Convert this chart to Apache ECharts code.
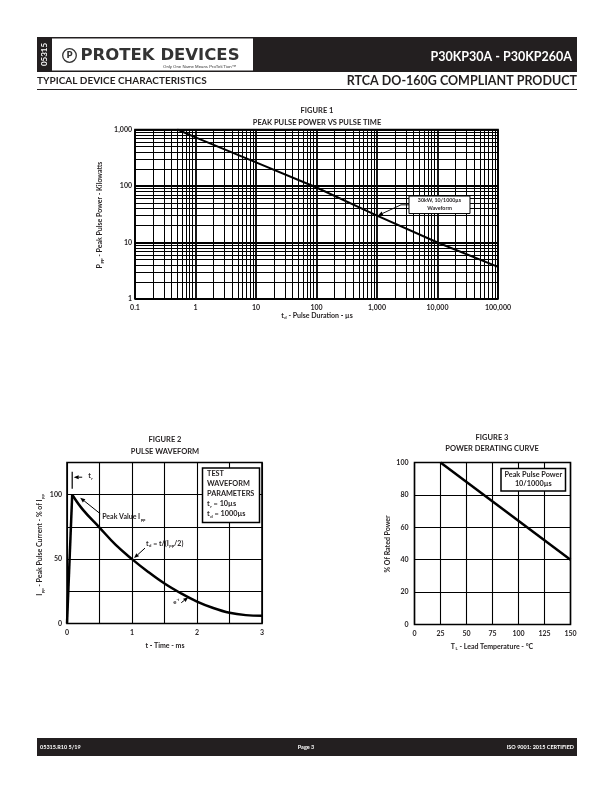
<!DOCTYPE html>
<html><head><meta charset="utf-8">
<script src="https://cdn.jsdelivr.net/npm/echarts@6/dist/echarts.min.js"></script>
<style>html,body{margin:0;padding:0;background:#fff}#c{width:612px;height:792px}</style>
</head><body><div id="c"></div>
<script>
// ---------- DATA ----------
// Figure 1: Peak pulse power vs pulse time
const fig1PulseDuration = [0.5, 1, 10, 100, 1000, 10000, 100000];
const fig1PeakPower = [1000, 725, 262, 94, 30, 10, 3.7];
const fig1XTickLabels = ['0.1', '1', '10', '100', '1,000', '10,000', '100,000'];
const fig1YTickLabels = ['1', '10', '100', '1,000'];
// Figure 2: Pulse waveform
const fig2Time = [0, 0.08, 0.25, 0.5, 0.75, 1, 1.25, 1.5, 1.75, 2, 2.25, 2.5, 2.75, 3];
const fig2Current = [0, 100, 88, 74.5, 61, 50, 40, 31, 23.5, 17, 12, 8.3, 6.5, 6];
const fig2XTickLabels = [0, 1, 2, 3];
const fig2YTickLabels = [0, 50, 100];
// Figure 3: Power derating curve
const fig3Temp = [25, 150];
const fig3Power = [100, 40];
const fig3XTickLabels = [0, 25, 50, 75, 100, 125, 150];
const fig3YTickLabels = [0, 20, 40, 60, 80, 100];

// ---------- STYLE ----------
const TXT = '#231f20';
const F = 'Lato, "Open Sans", "DejaVu Sans", sans-serif';
const lbl = (s) => ({color: TXT, fontFamily: F, fontWeight: 'bold', fontSize: s});

// minor log grid values (2..9 per decade)
const xMinor = [], yMinor = [];
for (let d = -1; d < 5; d++) for (let k = 2; k <= 9; k++) xMinor.push(k * Math.pow(10, d));
for (let d = 0; d < 3; d++) for (let k = 2; k <= 9; k++) yMinor.push(k * Math.pow(10, d));

const zip = (a, b) => a.map((v, i) => [v, b[i]]);
const gridBase = {show: true, borderColor: '#000', borderWidth: 1.6, backgroundColor: 'rgba(0,0,0,0)', outerBoundsMode: 'none', containLabel: false};
const split = (w) => ({show: true, lineStyle: {color: '#000', width: w, type: 'solid'}});

const chart = echarts.init(document.getElementById('c'), null, {renderer: 'canvas', width: 612, height: 792});

const option = {
  animation: false,
  backgroundColor: '#fff',
  grid: [
    Object.assign({left: 135, top: 129.5, width: 363, height: 169.5}, gridBase),
    Object.assign({left: 67, top: 462.5, width: 195, height: 161}, gridBase),
    Object.assign({left: 414.5, top: 462.5, width: 156, height: 162}, gridBase)
  ],
  xAxis: [
    {gridIndex: 0, type: 'log', logBase: 10, min: 0.1, max: 100000,
     axisLine: {show: false}, axisTick: {show: false}, splitLine: split(1.8),
     axisLabel: Object.assign({interval: 0, margin: 5, showMinLabel: true, showMaxLabel: true,
       formatter: v => fig1XTickLabels[Math.round(Math.log10(v)) + 1] || ''}, lbl(7))},
    {gridIndex: 1, type: 'value', min: 0, max: 3, interval: 0.5,
     axisLine: {show: false}, axisTick: {show: false}, splitLine: split(1.1),
     axisLabel: Object.assign({interval: 0, margin: 6,
       formatter: v => fig2XTickLabels.indexOf(Math.round(v * 100) / 100) >= 0 ? String(v) : ''}, lbl(7))},
    {gridIndex: 2, type: 'value', min: 0, max: 150, interval: 25,
     axisLine: {show: false}, axisTick: {show: false}, splitLine: split(1.1),
     axisLabel: Object.assign({interval: 0, margin: 6,
       formatter: v => fig3XTickLabels.indexOf(v) >= 0 ? String(v) : ''}, lbl(7))}
  ],
  yAxis: [
    {gridIndex: 0, type: 'log', logBase: 10, min: 1, max: 1000,
     axisLine: {show: false}, axisTick: {show: false}, splitLine: split(1.8),
     axisLabel: Object.assign({interval: 0, margin: 3, showMinLabel: true, showMaxLabel: true,
       formatter: v => fig1YTickLabels[Math.round(Math.log10(v))] || ''}, lbl(7))},
    {gridIndex: 1, type: 'value', min: 0, max: 125, interval: 25,
     axisLine: {show: false}, axisTick: {show: false}, splitLine: split(1.1),
     axisLabel: Object.assign({interval: 0, margin: 5,
       formatter: v => fig2YTickLabels.indexOf(v) >= 0 ? String(v) : ''}, lbl(7))},
    {gridIndex: 2, type: 'value', min: 0, max: 100, interval: 20,
     axisLine: {show: false}, axisTick: {show: false}, splitLine: split(1.1),
     axisLabel: Object.assign({interval: 0, margin: 6,
       formatter: v => fig3YTickLabels.indexOf(v) >= 0 ? String(v) : ''}, lbl(7))}
  ],
  series: [
    {type: 'line', xAxisIndex: 0, yAxisIndex: 0, data: zip(fig1PulseDuration, fig1PeakPower),
     symbol: 'none', silent: true, z: 10, lineStyle: {color: '#000', width: 2},
     markLine: {silent: true, symbol: ['none', 'none'], z: 1, label: {show: false},
       lineStyle: {color: '#000', width: 1, type: 'solid'}, emphasis: {disabled: true},
       data: xMinor.map(v => ({xAxis: v})).concat(yMinor.map(v => ({yAxis: v})))}},
    {type: 'line', xAxisIndex: 1, yAxisIndex: 1, data: zip(fig2Time.slice(0, 2), fig2Current.slice(0, 2)),
     symbol: 'none', silent: true, z: 10, lineStyle: {color: '#000', width: 2.5}},
    {type: 'line', xAxisIndex: 1, yAxisIndex: 1, data: zip(fig2Time.slice(1), fig2Current.slice(1)),
     symbol: 'none', smooth: 0.4, silent: true, z: 10, lineStyle: {color: '#000', width: 2.5},
     markLine: {silent: true, symbol: ['none', 'none'], label: {show: false},
       lineStyle: {color: '#000', width: 1, type: [2, 2]}, emphasis: {disabled: true},
       data: [[{coord: [0, 50]}, {coord: [1, 50]}], [{coord: [1, 50]}, {coord: [1, 0]}]]}},
    {type: 'line', xAxisIndex: 2, yAxisIndex: 2, data: zip(fig3Temp, fig3Power),
     symbol: 'none', silent: true, z: 10, lineStyle: {color: '#000', width: 2.5}}
  ]
};
chart.setOption(option);

// ---------- ANNOTATIONS / PAGE ----------
const P = (g, x, y) => chart.convertToPixel({gridIndex: g}, [x, y]);
const els = [];
function txt(x, y, text, size, opt) {
  opt = opt || {};
  els.push({type: 'text', x: x, y: y, rotation: opt.rot || 0, z: 100,
    style: {text: text, fill: opt.fill || TXT, fontFamily: opt.family || F, fontWeight: opt.weight || 'bold',
      fontSize: size, align: opt.align || 'center', verticalAlign: opt.va || 'middle',
      rich: opt.rich, lineHeight: opt.lh}});
}
function richSet(size) {
  return {
    n: {fontSize: size, fontWeight: 'bold', fontFamily: F, fill: TXT, color: TXT, lineHeight: size + 2},
    s: {fontSize: size * 0.6, fontWeight: 'bold', fontFamily: F, fill: TXT, color: TXT, verticalAlign: 'bottom', lineHeight: size * 0.6, padding: [0, 0, 0, 0.5]},
    p: {fontSize: size * 0.62, fontWeight: 'bold', fontFamily: F, fill: TXT, color: TXT, verticalAlign: 'top', lineHeight: size + 2}
  };
}
function rect(x, y, w, h, fill, stroke, lw) {
  els.push({type: 'rect', z: 90, shape: {x: x, y: y, width: w, height: h},
    style: {fill: fill || null, stroke: stroke || null, lineWidth: lw || 0}});
}
function line(pts, w, color) {
  els.push({type: 'polyline', z: 95, shape: {points: pts}, style: {stroke: color || '#000', lineWidth: w || 1, fill: null}});
}
function arrow(pts, w) {
  const n = pts.length;
  const [x2, y2] = pts[n - 1], [x1, y1] = pts[n - 2];
  const a = Math.atan2(y2 - y1, x2 - x1), L = 5, W = 2;
  const bx = x2 - L * Math.cos(a), by = y2 - L * Math.sin(a);
  const p2 = pts.slice(0, n - 1).concat([[bx, by]]);
  line(p2, w || 0.9);
  els.push({type: 'polygon', z: 95, shape: {points: [[x2, y2], [bx + W * Math.sin(a), by - W * Math.cos(a)], [bx - W * Math.sin(a), by + W * Math.cos(a)]]},
    style: {fill: '#000'}});
}

// Header
rect(37, 37, 540, 35, '#231f20');
rect(52, 38.5, 201, 32, '#fff');
txt(44.5, 54.5, '05315', 8, {fill: '#fff', rot: Math.PI / 2});
els.push({type: 'circle', z: 95, shape: {cx: 69.5, cy: 55.5, r: 6.8}, style: {fill: '#fff', stroke: '#333', lineWidth: 1.3}});
txt(69.6, 55.8, 'P', 8.5, {fill: '#333', family: '"DejaVu Sans", sans-serif', weight: 'bold'});
txt(80.5, 56, 'PROTEK DEVICES', 16.5, {fill: '#333', family: '"DejaVu Sans", sans-serif', weight: 'bold', align: 'left'});
txt(236, 66.8, 'Only One Name Means ProTek\u2019Tion\u2122', 4.3, {fill: '#333', family: '"Liberation Sans", sans-serif', weight: 'normal', align: 'right'});
txt(572, 57, 'P30KP30A - P30KP260A', 12.5, {fill: '#fff', align: 'right'});
txt(37, 81, 'TYPICAL DEVICE CHARACTERISTICS', 10, {align: 'left'});
txt(577, 81, 'RTCA DO-160G COMPLIANT PRODUCT', 12.5, {align: 'right'});
line([[37, 89.5], [577, 89.5]], 1.2, '#231f20');

// Footer
rect(37, 738, 540, 18, '#231f20');
txt(40, 747, '05315.R10 5/19', 5.5, {fill: '#fff', align: 'left'});
txt(306, 747, 'Page 3', 5.5, {fill: '#fff'});
txt(574, 747, 'ISO 9001: 2015 CERTIFIED', 5.5, {fill: '#fff', align: 'right'});

// Figure 1 texts
txt(317, 111, 'FIGURE 1', 7.5);
txt(317, 122.5, 'PEAK PULSE POWER VS PULSE TIME', 7.5);
txt(100, 215, '{n|P}{s|PP}{n| - Peak Pulse Power - Kilowatts}', 7, {rot: Math.PI / 2, rich: richSet(7)});
txt(317, 315.5, '{n|t}{s|d}{n| - Pulse Duration - \u00b5s}', 7, {rich: richSet(7)});
// Figure 1 annotation
const tip1 = P(0, 1000, 30);
rect(tip1[0] + 32, tip1[1] - 19.5, 61, 17.5, '#fff', '#000', 1);
txt(tip1[0] + 62.5, tip1[1] - 15, '30kW, 10/1000\u00b5s', 5.3);
txt(tip1[0] + 62.5, tip1[1] - 7, 'Waveform', 5.3);
arrow([[tip1[0] + 32, tip1[1] - 10.7], [tip1[0] + 24, tip1[1] - 10.7], [tip1[0] + 1, tip1[1]]], 0.9);

// Figure 2 texts
txt(165, 440, 'FIGURE 2', 7.5);
txt(165, 451.5, 'PULSE WAVEFORM', 7.5);
txt(40, 545, '{n|I}{s|pp}{n| - Peak Pulse Current - % of I}{s|pp}', 7, {rot: Math.PI / 2, rich: richSet(7)});
txt(165, 645.5, 't - Time - ms', 7);
const pk = P(1, fig2Time[1], fig2Current[1]);
line([[pk[0], pk[1] - 23], [pk[0], pk[1] - 6]], 1.2);
arrow([[pk[0] + 10, pk[1] - 17.5], [pk[0] + 1.5, pk[1] - 17.5]], 1);
txt(pk[0] + 16, pk[1] - 19, '{n|t}{s|r}', 7, {align: 'left', rich: richSet(7)});
arrow([[pk[0] + 28, pk[1] + 19], [pk[0] + 8, pk[1] + 3]], 1);
txt(pk[0] + 30, pk[1] + 22, '{n|Peak Value I}{s|pp}', 7, {align: 'left', rich: richSet(7)});
const hp = P(1, 1, 50);
arrow([[hp[0] + 13, hp[1] - 11], [hp[0] + 2, hp[1] - 1]], 1);
txt(hp[0] + 14, hp[1] - 15.5, '{n|t}{s|d}{n| = t/(I}{s|pp}{n|/2)}', 7, {align: 'left', rich: richSet(7)});
const ep = P(1, 1.85, 20);
arrow([[ep[0] - 6, ep[1] + 5], [ep[0] + 1, ep[1] - 0.5]], 1);
txt(ep[0] - 14, ep[1] + 4.5, '{n|e}{p|-t}', 6, {align: 'left', rich: richSet(6)});
// test waveform box
const g1 = P(1, 3, 125);
rect(g1[0] - 59.5, g1[1] + 5.5, 57, 54.5, '#fff', '#000', 1.5);
const bx = g1[0] - 55;
txt(bx, g1[1] + 11.5, 'TEST', 7.3, {align: 'left'});
txt(bx, g1[1] + 21.5, 'WAVEFORM', 7.3, {align: 'left'});
txt(bx, g1[1] + 31.5, 'PARAMETERS', 7.3, {align: 'left'});
txt(bx, g1[1] + 41.5, '{n|t}{s|r}{n| = 10\u00b5s}', 7.3, {align: 'left', rich: richSet(7.3)});
txt(bx, g1[1] + 51.5, '{n|t}{s|d}{n| = 1000\u00b5s}', 7.3, {align: 'left', rich: richSet(7.3)});

// Figure 3 texts
txt(492, 437.5, 'FIGURE 3', 7.5);
txt(492, 449, 'POWER DERATING CURVE', 7.5);
txt(388, 544, '% Of Rated Power', 7, {rot: Math.PI / 2});
txt(492, 646.5, '{n|T}{s|L}{n| - Lead Temperature - \u00b0C}', 7, {rich: richSet(7)});
const g3 = P(2, 150, 100);
rect(g3[0] - 69.5, g3[1] + 6, 64.5, 22.5, '#fff', '#000', 1.5);
txt(g3[0] - 37.2, g3[1] + 12.5, 'Peak Pulse Power', 7.3);
txt(g3[0] - 37.2, g3[1] + 21.5, '10/1000\u00b5s', 7.3);

chart.setOption({graphic: {elements: els}});
</script></body></html>
